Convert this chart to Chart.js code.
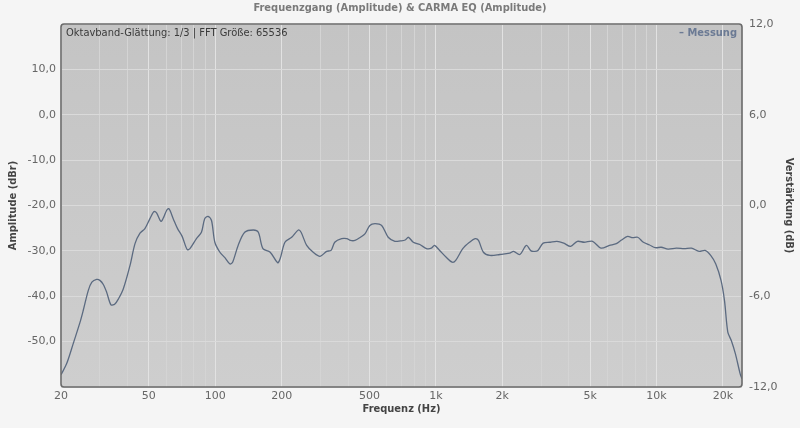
<!DOCTYPE html>
<html>
<head>
<meta charset="utf-8">
<script src="https://cdn.jsdelivr.net/npm/chart.js@4/dist/chart.umd.min.js"></script>
<style>
  html, body { margin: 0; padding: 0; background: #f5f5f5; }
  #render { display: block; }
</style>
</head>
<body>
<canvas id="render" width="800" height="428"></canvas>
<script>
// Messkurve
const freqs = [20, 21.2, 22.7, 24.4, 25.2, 26.6, 27.6, 29, 30, 31.1, 32.2, 33.7, 35.1, 36.5, 38.3,
  41.1, 43.3, 45.6, 48, 50.6, 52.8, 54.3, 56.8, 58.5, 60.2, 61.7, 64.5, 67.5, 70.8, 74.6, 76.8,
  82.2, 86.6, 89.6, 92.8, 96.2, 99.6, 105, 110.6, 116.6, 119.9, 127, 136, 148.9, 156.8, 164.5,
  177.5, 191.8, 197, 207, 222, 238, 245, 259.7, 278, 298.6, 320, 335, 348, 374, 395, 410, 430,
  455, 478, 502, 530, 568, 608, 652, 690, 726, 751, 790, 846, 907, 954, 986, 1040, 1114, 1186,
  1230, 1324, 1420, 1506, 1560, 1642, 1758, 1950, 2160, 2250, 2400, 2572, 2700, 2806, 2900,
  3064, 3294, 3538, 3798, 4078, 4380, 4700, 5132, 5600, 6120, 6576, 6938, 7394, 7800, 8216,
  8720, 9300, 9880, 10500, 11280, 12300, 13360, 14400, 15600, 16600, 17600, 18560, 19600,
  20320, 21040, 21840, 22780, 23940, 24400];
const amps = [-57.3, -54.9, -50.5, -45.7, -43.2, -38.7, -36.9, -36.3, -36.5, -37.4, -39.1, -41.9, -41.7, -40.5, -38.4,
  -33.2, -28.4, -26.1, -25.1, -22.9, -21.3, -21.7, -23.5, -22.5, -21.1, -20.7, -22.9, -25.1, -26.8, -29.7, -29.5,
  -27.3, -25.9, -22.9, -22.4, -23.3, -28.1, -30.3, -31.5, -32.9, -32.5, -28.8, -25.9, -25.4, -25.9, -29.5,
  -30.3, -32.6, -31.7, -28.1, -27.0, -25.4, -25.9, -28.8, -30.3, -31.2, -30.1, -29.9, -28.1, -27.3, -27.3, -27.7, -27.7,
  -27.0, -26.2, -24.4, -24.0, -24.4, -27.0, -27.9, -27.8, -27.6, -27.0, -28.1, -28.6, -29.5, -29.4, -28.8, -29.9, -31.4, -32.5,
  -32.1, -29.5, -28.1, -27.3, -27.7, -30.3, -31.0, -30.8, -30.5, -30.1, -30.8, -28.8, -30.0, -30.1, -29.9,
  -28.3, -28.1, -27.9, -28.3, -29.0, -27.9, -28.1, -27.9, -29.4, -28.8, -28.4, -27.6, -26.8, -27.1, -27.0,
  -28.1, -28.7, -29.3, -29.2, -29.6, -29.4, -29.5, -29.4, -30.1, -29.9, -31.0, -32.9, -36.5,
  -40.9, -47.9, -49.8, -52.7, -57.1, -58.2];

// Achsen
const xGrid = [20, 30, 40, 50, 60, 70, 80, 90, 100, 200, 300, 400, 500, 600, 700, 800, 900,
  1000, 2000, 3000, 4000, 5000, 6000, 7000, 8000, 9000, 10000, 20000];
const xLabelValues = [20, 50, 100, 200, 500, 1000, 2000, 5000, 10000, 20000];
const xLabelTexts = ['20', '50', '100', '200', '500', '1k', '2k', '5k', '10k', '20k'];
const yLeftLabels = [10, 0, -10, -20, -30, -40, -50];

const tickFont = { family: 'DejaVu Sans', size: 11 };
const titleFont = { family: 'DejaVu Sans Condensed', size: 11, weight: 'bold' };
const fmt = v => v.toFixed(1).replace('.', ',');

const plotFrame = {
  id: 'plotFrame',
  beforeDraw(chart) {
    const { ctx, chartArea: a } = chart;
    ctx.save();
    ctx.fillStyle = '#f5f5f5';
    ctx.fillRect(0, 0, chart.width, chart.height);
    const g = ctx.createLinearGradient(0, a.top, 0, a.bottom);
    g.addColorStop(0, '#c4c4c4');
    g.addColorStop(1, '#cecece');
    ctx.fillStyle = g;
    ctx.beginPath();
    ctx.roundRect(a.left, a.top, a.right - a.left, a.bottom - a.top, 3);
    ctx.fill();
    ctx.restore();
  },
  afterDraw(chart) {
    const { ctx, chartArea: a } = chart;
    ctx.save();
    ctx.strokeStyle = '#6a6a6a';
    ctx.lineWidth = 1.6;
    ctx.beginPath();
    ctx.roundRect(a.left, a.top, a.right - a.left, a.bottom - a.top, 3);
    ctx.stroke();

    ctx.textBaseline = 'middle';
    ctx.font = '11px "DejaVu Sans Condensed"';
    ctx.fillStyle = '#3a3a3a';
    ctx.textAlign = 'left';
    ctx.fillText('Oktavband-Glättung: 1/3 | FFT Größe: 65536', a.left + 5, a.top + 9);
    ctx.font = 'bold 11px "DejaVu Sans Condensed"';
    ctx.fillStyle = '#6b7a94';
    ctx.textAlign = 'right';
    ctx.fillText('– Messung', a.right - 5, a.top + 9);

    ctx.font = 'bold 11px "DejaVu Sans Condensed"';
    ctx.fillStyle = '#7a7a7a';
    ctx.textAlign = 'center';
    ctx.fillText('Frequenzgang (Amplitude) & CARMA EQ (Amplitude)', 400, 8);
    ctx.restore();
  }
};

new Chart(document.getElementById('render'), {
  type: 'line',
  data: {
    datasets: [{
      label: 'Messung',
      data: freqs.map((f, i) => ({ x: f, y: amps[i] })),
      borderColor: '#5b6a80',
      borderWidth: 1.3,
      pointRadius: 0,
      tension: 0.3,
      fill: false,
      yAxisID: 'y'
    }]
  },
  options: {
    responsive: false,
    animation: false,
    devicePixelRatio: 1,
    layout: { padding: { top: 24 } },
    plugins: { legend: { display: false }, tooltip: { enabled: false } },
    scales: {
      x: {
        type: 'logarithmic',
        min: 20,
        max: 24400,
        afterFit: s => { s.height = 41; },
        afterBuildTicks: s => { s.ticks = xGrid.map(v => ({ value: v })); },
        ticks: {
          autoSkip: false, maxRotation: 0, padding: 3, color: '#666', font: tickFont,
          callback: v => { const i = xLabelValues.indexOf(v); return i < 0 ? '' : xLabelTexts[i]; }
        },
        grid: {
          drawTicks: false,
          color: c => xLabelValues.includes(c.tick.value) ? '#e2e2e2' : '#d4d4d4'
        },
        border: { display: false },
        title: { display: true, text: 'Frequenz (Hz)', color: '#444', font: titleFont, padding: { top: 0, bottom: 12 } }
      },
      y: {
        position: 'left',
        min: -60,
        max: 20,
        afterFit: s => { s.width = 61; },
        ticks: {
          stepSize: 10, padding: 5, color: '#666', font: tickFont,
          callback: v => yLeftLabels.includes(v) ? fmt(v) : ''
        },
        grid: { drawTicks: false, color: '#dadada' },
        border: { display: false },
        title: { display: true, text: 'Amplitude (dBr)', color: '#444', font: titleFont, padding: { top: 7 } }
      },
      y2: {
        position: 'right',
        min: -12,
        max: 12,
        afterFit: s => { s.width = 58; },
        ticks: { stepSize: 6, padding: 7, color: '#666', font: tickFont, callback: v => fmt(v) },
        grid: { display: false, drawTicks: false },
        border: { display: false },
        title: { display: true, text: 'Verstärkung (dB)', color: '#444', font: titleFont, padding: { top: 5 } }
      }
    }
  },
  plugins: [plotFrame]
});
</script>
</body>
</html>
